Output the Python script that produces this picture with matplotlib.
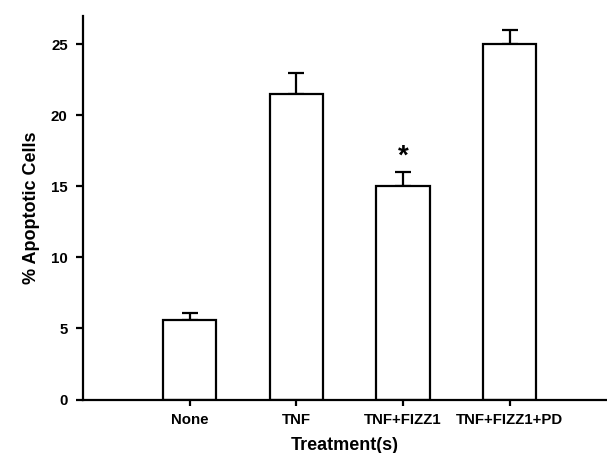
import matplotlib
matplotlib.use("Agg")
import matplotlib.pyplot as plt
import numpy as np

plt.rcParams["font.family"] = ["Liberation Sans", "DejaVu Sans"]

# data
treatments = ["None", "TNF", "TNF+FIZZ1", "TNF+FIZZ1+PD"]
apoptotic = [5.6, 21.5, 15.0, 25.0]
sem = [0.5, 1.5, 1.0, 1.0]
significant = [False, False, True, False]

fig = plt.figure(figsize=(6.07, 4.53), dpi=100)
ax = fig.add_axes([0.1367, 0.1181, 0.861, 0.8466])

x = np.arange(len(treatments))
lower = np.zeros(len(sem))
ax.bar(x, apoptotic, width=0.5, color="white", edgecolor="black", linewidth=1.6,
       zorder=2)
ax.errorbar(x, apoptotic, yerr=[lower, sem], fmt="none", ecolor="black",
            elinewidth=1.6, capsize=6, capthick=1.6, zorder=1)

for xi, v, e, s in zip(x, apoptotic, sem, significant):
    if s:
        ax.text(xi, v + e + 1.1, "*", ha="center", va="center",
                fontsize=20, fontweight="bold")

ax.set_xlim(-1.0, 3.9)
ax.set_ylim(0, 27)
ax.set_yticks([0, 5, 10, 15, 20, 25])
ax.set_xticks(x)
ax.set_xticklabels(treatments, fontsize=10.8, fontweight="bold")
for lbl in ax.get_yticklabels():
    lbl.set_fontsize(10.8)
    lbl.set_fontweight("bold")

ax.spines["top"].set_visible(False)
ax.spines["right"].set_visible(False)
for sp in ("left", "bottom"):
    ax.spines[sp].set_linewidth(1.6)
ax.tick_params(axis="y", direction="out", length=5, width=1.6, pad=6)
ax.tick_params(axis="x", direction="out", length=4, width=1.6, pad=6)

ax.set_xlabel("Treatment(s)", fontsize=13, fontweight="bold", labelpad=7)
ax.set_ylabel("% Apoptotic Cells", fontsize=13, fontweight="bold", labelpad=8)

fig.savefig("out.png", dpi=100)
